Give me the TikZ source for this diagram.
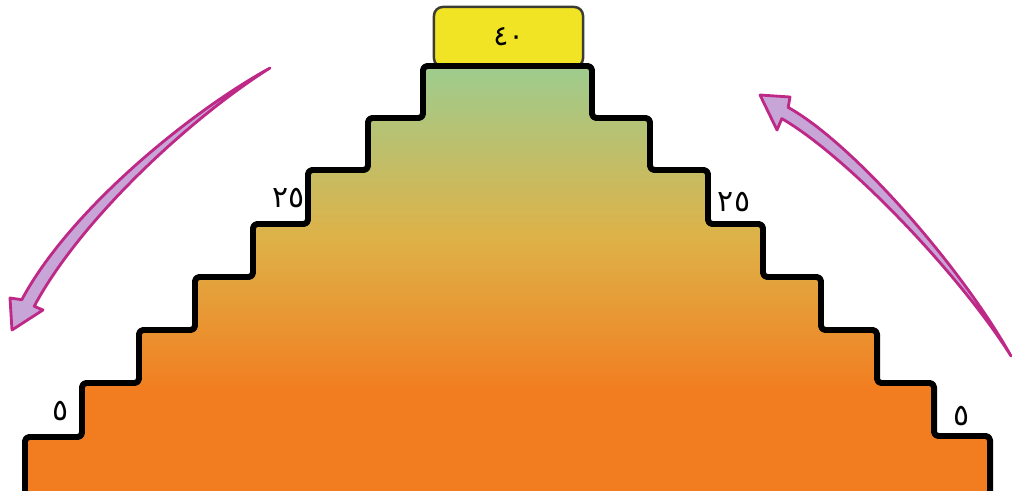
\documentclass[tikz,border=0pt]{standalone}
\usepackage{fontspec}
\newfontfamily\arabicfont[Script=Arabic]{DejaVu Sans}
\definecolor{stairorange}{RGB}{242,125,32}
\definecolor{stairmid}{RGB}{222,178,72}
\definecolor{stairgreen}{RGB}{158,204,142}
\definecolor{topyellow}{RGB}{241,228,36}
\definecolor{topedge}{RGB}{60,60,50}
\definecolor{arrowedge}{RGB}{190,40,135}
\definecolor{arrowfill}{RGB}{200,165,215}
\pgfdeclareverticalshading{stairshade}{100bp}{color(0bp)=(stairorange); color(37bp)=(stairorange); color(55bp)=(stairmid); color(75bp)=(stairgreen); color(100bp)=(stairgreen)}
\def\stairpts{(25,437) -- (82,437) -- (82,383) -- (139,383) -- (139,330) -- (195,330) -- (195,277) -- (253,277) -- (253,224) -- (308,224) -- (308,170) -- (368,170) -- (368,118) -- (423,118) -- (423,66) -- (592,66) -- (592,118) -- (650,118) -- (650,170) -- (708,170) -- (708,224) -- (763,224) -- (763,277) -- (821,277) -- (821,330) -- (877,330) -- (877,383) -- (934,383) -- (934,436) -- (990,436)}
\begin{document}
\begin{tikzpicture}[x={(0.01cm,0)}, y={(0,-0.01cm)},
  stairline/.style={line width=1.7pt, line join=round, rounded corners=1.2pt},
  numlbl/.style={font=\arabicfont\fontsize{8.5}{10}\selectfont, inner sep=0pt},
  topbox/.style={draw=topedge, fill=topyellow, line width=0.7pt, rounded corners=2.5pt,
    minimum width=1.49cm, minimum height=0.60cm, inner sep=0pt,
    font=\arabicfont\fontsize{8}{9}\selectfont},
  curvarrow/.style={fill=arrowfill, draw=arrowedge, line width=0.8pt, line join=round}]
\useasboundingbox (0,0) rectangle (1012,491);
% top box
\node[topbox] (top) at (508.5,37) {٤٠};
% staircase
\shade[shading=stairshade] (25,495) -- \stairpts -- (990,495) -- cycle;
\draw[stairline] (25,495) -- \stairpts -- (990,495);
% labels
\node[numlbl] (lefttwentyfive) at (289,198) {٢٥};
\node[numlbl] (righttwentyfive) at (734,202) {٢٥};
\node[numlbl] (leftfive) at (61,411) {٥};
\node[numlbl] (rightfive) at (962,416) {٥};
% left curved arrow
\path[curvarrow] (270,68) .. controls (187.3,113.6) and (68.8,211.7) .. (21.8,299.7)
  -- (10,298) -- (12,330) -- (43,310) -- (34.2,306.3)
  .. controls (81.2,218.3) and (192.7,116.4) .. (270,68) -- cycle;
% right curved arrow
\path[curvarrow] (1011,356) .. controls (961.5,267.4) and (853.5,143.9) .. (788.2,107.4)
  -- (790,97) -- (760,95) -- (777,130) -- (781.8,118.6)
  .. controls (846.5,156.1) and (958.5,272.6) .. (1011,356) -- cycle;
\end{tikzpicture}
\end{document}
